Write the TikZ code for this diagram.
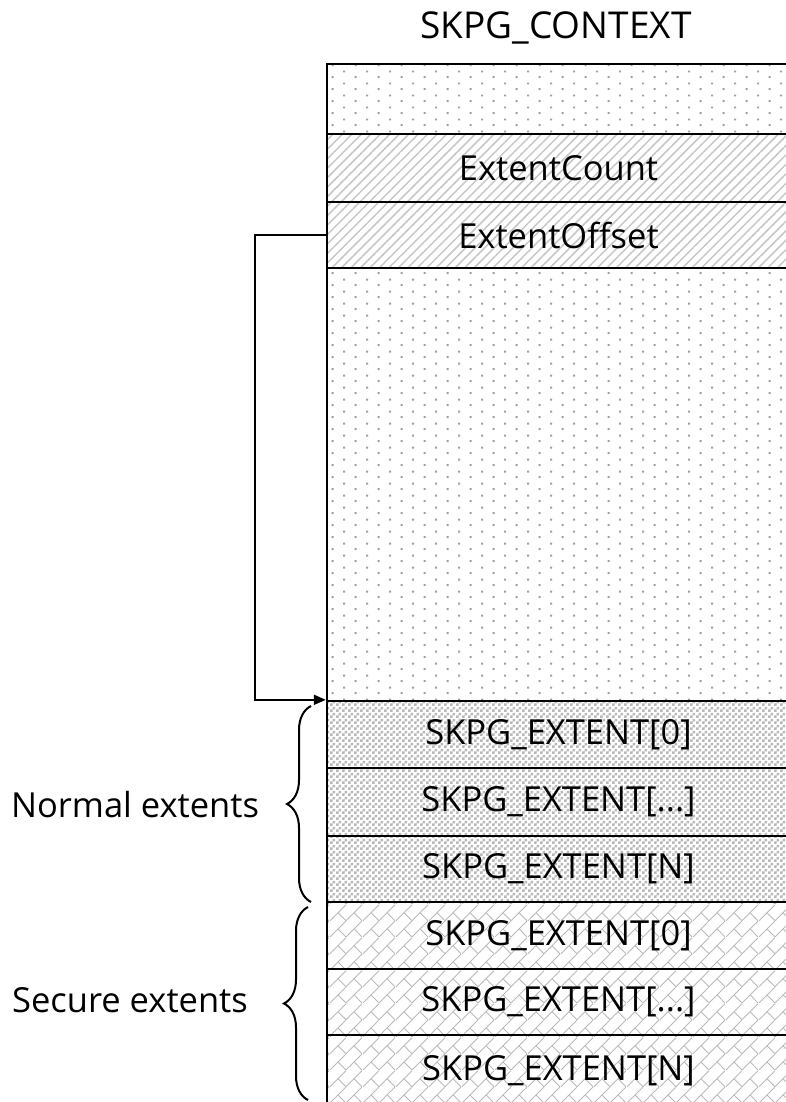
\documentclass[tikz,border=0pt]{standalone}
\usepackage{fontspec}
\setmainfont{Open Sans}
\usetikzlibrary{patterns.meta,arrows.meta,decorations.pathreplacing}

% Fill patterns for the structure fields
% staggered dots
\pgfdeclarepattern{name=sparsedots, type=uncolored,
  bottom left={\pgfpointorigin}, top right={\pgfpoint{23.4pt}{11.6pt}},
  tile size={\pgfpoint{23.4pt}{11.6pt}},
  code={\pgfpathrectangle{\pgfpoint{4.85pt}{1.9pt}}{\pgfpoint{2pt}{2pt}}%
        \pgfpathrectangle{\pgfpoint{16.55pt}{7.7pt}}{\pgfpoint{2pt}{2pt}}%
        \pgfusepath{fill}}}
% small checkerboard
\pgfdeclarepattern{name=checker, type=uncolored,
  bottom left={\pgfpointorigin}, top right={\pgfpoint{6pt}{6pt}},
  tile size={\pgfpoint{6pt}{6pt}},
  code={\pgfpathrectangle{\pgfpointorigin}{\pgfpoint{3pt}{3pt}}%
        \pgfpathrectangle{\pgfpoint{3pt}{3pt}}{\pgfpoint{3pt}{3pt}}%
        \pgfusepath{fill}}}
% bricks laid at 45 degrees; \bk is half the tile size
\def\bk{16.5}
\pgfmathsetmacro\bkh{\bk/2}
\pgfmathsetmacro\bkt{3*\bk/2}
\pgfmathsetmacro\bkd{2*\bk}
\pgfdeclarepattern{name=slantbricks, type=uncolored,
  bottom left={\pgfpointorigin}, top right={\pgfpoint{\bkd pt}{\bkd pt}},
  tile size={\pgfpoint{\bkd pt}{\bkd pt}},
  code={\pgfsetlinewidth{0.9pt}%
    \pgfpathmoveto{\pgfpoint{0pt}{0pt}}\pgfpathlineto{\pgfpoint{\bkd pt}{\bkd pt}}%
    \pgfpathmoveto{\pgfpoint{0pt}{\bk pt}}\pgfpathlineto{\pgfpoint{\bk pt}{\bkd pt}}%
    \pgfpathmoveto{\pgfpoint{\bk pt}{0pt}}\pgfpathlineto{\pgfpoint{\bkd pt}{\bk pt}}%
    \pgfpathmoveto{\pgfpoint{\bk pt}{\bk pt}}\pgfpathlineto{\pgfpoint{\bkh pt}{\bkt pt}}%
    \pgfpathmoveto{\pgfpoint{\bkd pt}{0pt}}\pgfpathlineto{\pgfpoint{\bkt pt}{\bkh pt}}%
    \pgfpathmoveto{\pgfpoint{\bk pt}{0pt}}\pgfpathlineto{\pgfpoint{\bkh pt}{\bkh pt}}%
    \pgfpathmoveto{\pgfpoint{\bkd pt}{\bk pt}}\pgfpathlineto{\pgfpoint{\bkt pt}{\bkt pt}}%
    \pgfusepath{stroke}}}

\tikzset{
  field/.style={draw=black, line width=2.4pt, minimum width=463pt,
    inner sep=0pt, font=\fontsize{34.5}{40}\selectfont},
  dotfield/.style={field, pattern={sparsedots}, pattern color=gray!75},
  hatchfield/.style={field,
    pattern={Lines[angle=45,distance=6.7pt,line width=1.5pt]}, pattern color=gray!45},
  normfield/.style={field, pattern={checker}, pattern color=gray!55},
  securefield/.style={field, pattern={slantbricks}, pattern color=gray!55},
  label/.style={font=\fontsize{34.5}{40}\selectfont, inner sep=0pt},
  group/.style={decorate, decoration={brace, amplitude=24pt, mirror},
    line width=2pt},
  link/.style={line width=1.8pt, -{Triangle[length=12pt,width=10pt]}}
}

\begin{document}
\begin{tikzpicture}[x=1pt, y=-1pt]
  \useasboundingbox (0,0) rectangle (786,1102);

  \node[label, font=\fontsize{37}{42}\selectfont] (title) at (556,28) {SKPG\_CONTEXT};

  % SKPG_CONTEXT fields, top to bottom
  \node[dotfield,   minimum height=70pt]  (head)   at (558.5,99)    {};
  \node[hatchfield, minimum height=68pt]  (count)  at (558.5,168)   {ExtentCount};
  \node[hatchfield, minimum height=66pt]  (offset) at (558.5,235)   {ExtentOffset};
  \node[dotfield,   minimum height=433pt] (body)   at (558.5,484.5) {};
  \node[normfield,  minimum height=67pt]  (n0)     at (558.5,734.5) {SKPG\_EXTENT[0]};
  \node[normfield,  minimum height=68pt]  (n1)     at (558.5,802)   {SKPG\_EXTENT[...]};
  \node[normfield,  minimum height=66pt]  (n2)     at (558.5,869)   {SKPG\_EXTENT[N]};
  \node[securefield,minimum height=67pt]  (s0)     at (558.5,935.5) {SKPG\_EXTENT[0]};
  \node[securefield,minimum height=66pt]  (s1)     at (558.5,1002)  {SKPG\_EXTENT[...]};
  \node[securefield,minimum height=71pt]  (s2)     at (558.5,1070.5){SKPG\_EXTENT[N]};

  % ExtentOffset points at the first extent
  \draw[link] (offset.west) -- ++(-71,0) |- (n0.north west);

  % Extent groups
  \coordinate (nt) at (311,706);
  \coordinate (nb) at (311,902);
  \coordinate (st) at (308,907);
  \coordinate (sb) at (308,1100);
  \draw[group] (nt) -- (nb);
  \draw[group] (st) -- (sb);
  \node[label] (normal) at (135,805)  {Normal extents};
  \node[label] (secure) at (130,1000) {Secure extents};
\end{tikzpicture}
\end{document}
